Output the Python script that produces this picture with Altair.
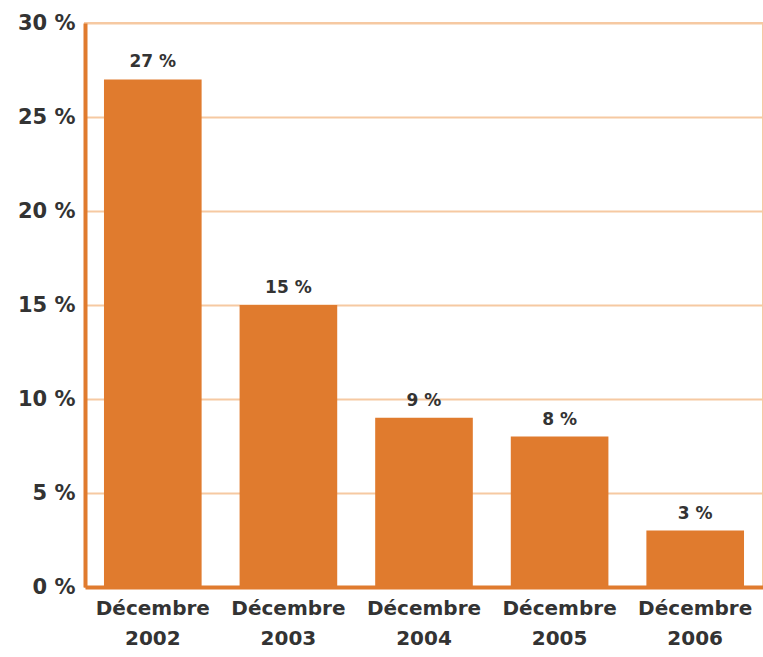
import altair as alt
import pandas as pd

categories = ["Décembre 2002", "Décembre 2003", "Décembre 2004", "Décembre 2005", "Décembre 2006"]
values = [27, 15, 9, 8, 3]
labels = ["27 %", "15 %", "9 %", "8 %", "3 %"]
y_ticks = [0, 5, 10, 15, 20, 25, 30]

df = pd.DataFrame({"cat": categories, "val": values, "lab": labels})

FONT = "DejaVu Sans"
ORANGE = "#E07B2E"
GRID = "#F6C9A2"
TEXT = "#333333"

x = alt.X("cat:N", sort=categories, title=None,
          scale=alt.Scale(paddingInner=0.28, paddingOuter=0.14),
          axis=alt.Axis(labelAngle=0, labelExpr="split(datum.value, ' ')",
                        labelFont=FONT, labelFontSize=20, labelFontWeight="bold",
                        labelColor=TEXT, labelLineHeight=30, labelPadding=11,
                        ticks=False, domainColor=ORANGE, domainWidth=4,
                        grid=False))
y = alt.Y("val:Q", title=None,
          scale=alt.Scale(domain=[0, 30], nice=False),
          axis=alt.Axis(values=y_ticks, labelExpr="datum.value + ' %'",
                        labelFont=FONT, labelFontSize=21, labelFontWeight="bold",
                        labelColor=TEXT, labelPadding=10, ticks=False,
                        domainColor=ORANGE, domainWidth=4,
                        grid=True, gridColor=GRID, gridWidth=2, gridOpacity=1))

bars = alt.Chart(df).mark_bar(color=ORANGE).encode(x=x, y=y)
text = alt.Chart(df).mark_text(baseline="bottom", dy=-8, font=FONT, fontSize=17,
                               fontWeight="bold", color=TEXT).encode(
    x=alt.X("cat:N", sort=categories), y="val:Q", text="lab:N")

chart = (bars + text).properties(
    width=678, height=564,
    autosize=alt.AutoSizeParams(type="none"),
    padding={"left": 85, "top": 23, "right": 0, "bottom": 70},
    background="white",
).configure_view(stroke=GRID, strokeWidth=2)

chart.save("out.html", embed_options={"renderer": "svg", "actions": False})
